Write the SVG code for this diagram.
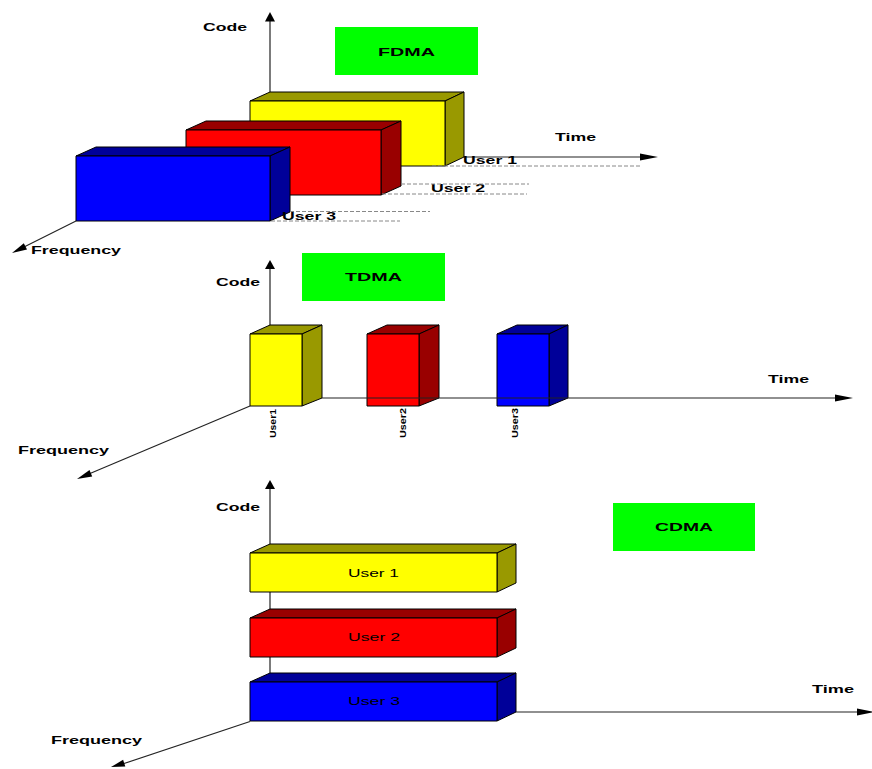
<svg xmlns="http://www.w3.org/2000/svg" width="872" height="769" viewBox="0 0 872 769">
<style>
.ax{stroke:#222;stroke-width:1.2;fill:none}
.ah{fill:#000;stroke:none}
.dash{stroke:#888;stroke-width:1;stroke-dasharray:4 2;fill:none}
.lbl{font-family:"Liberation Sans",Arial,sans-serif;font-weight:bold;font-size:11px;fill:#000}
.in{font-family:"Liberation Sans",Arial,sans-serif;font-size:11px;fill:#000}
.rot{font-family:"Liberation Sans",Arial,sans-serif;font-weight:bold;font-size:9px;fill:#000}
.edge{stroke:#000;stroke-width:1;stroke-linejoin:round}
.yf{fill:#FFFF00}.yd{fill:#999900}
.rf{fill:#FF0000}.rd{fill:#990000}
.bf{fill:#0000FF}.bd{fill:#000099}
.title{fill:#00FF00}
</style>
<rect width="872" height="769" fill="#fff"/>

<!-- connectors drawn behind boxes -->
<g id="connectors-back">
  <line class="ax" x1="270" y1="20" x2="270" y2="157"/>
  <line class="ax" x1="464" y1="157" x2="642" y2="157"/>
  <line class="ax" x1="270" y1="268" x2="270" y2="398"/>
  <line class="ax" x1="270" y1="488" x2="270" y2="712"/>
</g>

<!-- FDMA -->
<g id="fdma-title"><rect class="title" x="335" y="27" width="143" height="48"/><text class="lbl" x="378" y="56" textLength="57" lengthAdjust="spacingAndGlyphs">FDMA</text></g>
<g id="fdma-user1">
  <polygon class="yd edge" points="250,101 270,92 464,92 445,101"/>
  <polygon class="yd edge" points="445,101 464,92 464,157 445,166"/>
  <rect class="yf edge" x="250" y="101" width="195" height="65"/>
</g>
<g id="fdma-user2">
  <polygon class="rd edge" points="186,130 206,121 401,121 381,130"/>
  <polygon class="rd edge" points="381,130 401,121 401,186 381,195"/>
  <rect class="rf edge" x="186" y="130" width="195" height="65"/>
</g>
<g id="fdma-user3">
  <polygon class="bd edge" points="76,156 96,147 290,147 270,156"/>
  <polygon class="bd edge" points="270,156 290,147 290,212 270,221"/>
  <rect class="bf edge" x="76" y="156" width="194" height="65"/>
</g>
<g id="fdma-labels">
  <text class="lbl" x="203" y="30.5" textLength="44" lengthAdjust="spacingAndGlyphs">Code</text>
  <text class="lbl" x="555" y="140.5" textLength="41" lengthAdjust="spacingAndGlyphs">Time</text>
  <text class="lbl" x="31" y="254" textLength="90" lengthAdjust="spacingAndGlyphs">Frequency</text>
  <text class="lbl" x="463" y="163.5" textLength="54" lengthAdjust="spacingAndGlyphs">User 1</text>
  <text class="lbl" x="431" y="192" textLength="54" lengthAdjust="spacingAndGlyphs">User 2</text>
  <text class="lbl" x="282" y="219.5" textLength="54" lengthAdjust="spacingAndGlyphs">User 3</text>
</g>

<!-- TDMA -->
<g id="tdma-title"><rect class="title" x="302" y="253" width="143" height="48"/><text class="lbl" x="345" y="281" textLength="57" lengthAdjust="spacingAndGlyphs">TDMA</text></g>
<g id="tdma-user1">
  <polygon class="yd edge" points="250,334 270,325 322,325 302,334"/>
  <polygon class="yd edge" points="302,334 322,325 322,398 302,406"/>
  <rect class="yf edge" x="250" y="334" width="52" height="72"/>
  <text class="rot" transform="translate(276,438) rotate(-90)" textLength="29" lengthAdjust="spacingAndGlyphs">User1</text>
</g>
<g id="tdma-user2">
  <polygon class="rd edge" points="367,334 387,325 439,325 419,334"/>
  <polygon class="rd edge" points="419,334 439,325 439,398 419,406"/>
  <rect class="rf edge" x="367" y="334" width="52" height="72"/>
  <text class="rot" transform="translate(405.5,438) rotate(-90)" textLength="30" lengthAdjust="spacingAndGlyphs">User2</text>
</g>
<g id="tdma-user3">
  <polygon class="bd edge" points="497,334 517,325 568,325 549,334"/>
  <polygon class="bd edge" points="549,334 568,325 568,398 549,406"/>
  <rect class="bf edge" x="497" y="334" width="52" height="72"/>
  <text class="rot" transform="translate(518,438) rotate(-90)" textLength="30" lengthAdjust="spacingAndGlyphs">User3</text>
</g>
<g id="tdma-labels">
  <text class="lbl" x="216" y="285.5" textLength="44" lengthAdjust="spacingAndGlyphs">Code</text>
  <text class="lbl" x="768" y="382.5" textLength="41" lengthAdjust="spacingAndGlyphs">Time</text>
  <text class="lbl" x="18" y="454" textLength="91" lengthAdjust="spacingAndGlyphs">Frequency</text>
</g>

<!-- CDMA -->
<g id="cdma-title"><rect class="title" x="613" y="503" width="142" height="48"/><text class="lbl" x="655" y="531" textLength="58" lengthAdjust="spacingAndGlyphs">CDMA</text></g>
<g id="cdma-user1">
  <polygon class="yd edge" points="250,553 270,544 516,544 497,553"/>
  <polygon class="yd edge" points="497,553 516,544 516,583 497,592"/>
  <rect class="yf edge" x="250" y="553" width="247" height="39"/>
  <text class="in" x="348" y="576.5" textLength="51" lengthAdjust="spacingAndGlyphs">User 1</text>
</g>
<g id="cdma-user2">
  <polygon class="rd edge" points="250,618 270,609 516,609 497,618"/>
  <polygon class="rd edge" points="497,618 516,609 516,648 497,657"/>
  <rect class="rf edge" x="250" y="618" width="247" height="39"/>
  <text class="in" x="348" y="640.5" textLength="52" lengthAdjust="spacingAndGlyphs" fill="#200">User 2</text>
</g>
<g id="cdma-user3">
  <polygon class="bd edge" points="250,682 270,673 516,673 497,682"/>
  <polygon class="bd edge" points="497,682 516,673 516,712 497,721"/>
  <rect class="bf edge" x="250" y="682" width="247" height="39"/>
  <text class="in" x="348" y="705" textLength="52" lengthAdjust="spacingAndGlyphs" fill="#002">User 3</text>
</g>
<g id="cdma-labels">
  <text class="lbl" x="216" y="511" textLength="44" lengthAdjust="spacingAndGlyphs">Code</text>
  <text class="lbl" x="812" y="692.5" textLength="42" lengthAdjust="spacingAndGlyphs">Time</text>
  <text class="lbl" x="51" y="744" textLength="91" lengthAdjust="spacingAndGlyphs">Frequency</text>
</g>

<!-- connectors drawn in front -->
<g id="connectors">
  <!-- FDMA -->
  <polygon class="ah" points="270,12 265,21.5 275,21.5"/>
  <polygon class="ah" points="658,157 640,153.5 640,160.5"/>
  <line class="ax" x1="76" y1="221" x2="24" y2="247"/>
  <polygon class="ah" points="12,253 27,249.5 23.8,243.2"/>
  <line class="dash" x1="432" y1="166" x2="640" y2="166"/>
  <line class="dash" x1="401" y1="184" x2="529" y2="184"/>
  <line class="dash" x1="382" y1="194" x2="527" y2="194"/>
  <line class="dash" x1="290" y1="211.5" x2="430" y2="211.5"/>
  <line class="dash" x1="271" y1="221" x2="400" y2="221"/>
  <!-- TDMA -->
  <polygon class="ah" points="270,260 265,269 275,269"/>
  <line class="ax" x1="322" y1="398" x2="836" y2="398"/>
  <polygon class="ah" points="853,398 835,394.5 835,401.5"/>
  <line class="ax" x1="250" y1="406" x2="90" y2="473.5"/>
  <polygon class="ah" points="77,479 92.2,476.6 89.5,470"/>
  <!-- CDMA -->
  <polygon class="ah" points="270,480 265,489 275,489"/>
  <line class="ax" x1="516" y1="712" x2="860" y2="712"/>
  <polygon class="ah" points="875,712 857,708.5 857,715.5"/>
  <line class="ax" x1="250" y1="721.5" x2="124" y2="763.5"/>
  <polygon class="ah" points="111,767 125.3,766.4 123.1,759.8"/>
</g>
</svg>
